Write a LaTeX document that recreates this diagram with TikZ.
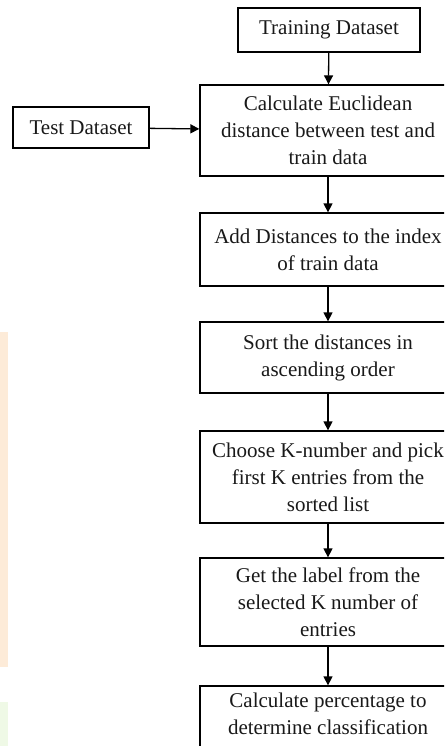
\documentclass[tikz,border=0pt]{standalone}
\usepackage{fontspec}
\setmainfont{Liberation Serif}
\usetikzlibrary{arrows.meta}
\definecolor{stripOrange}{RGB}{253,235,216}
\definecolor{stripGreen}{RGB}{239,249,230}
\tikzset{
  box/.style={draw, line width=1.3pt, align=center, inner sep=0pt,
    font=\fontsize{21}{27}\selectfont, text=black!90},
  flow/.style={line width=1.3pt, -{Triangle[width=9pt,length=9pt]}},
}
\begin{document}
\begin{tikzpicture}[x=1pt,y=-1pt]
\useasboundingbox (0,0) rectangle (444,746);
\clip (0,0) rectangle (444,746);
\fill[white] (0,0) rectangle (444,746);
% faint page strips at the left edge
\fill[stripOrange] (0,332) rectangle (8,667);
\fill[stripGreen] (0,702) rectangle (8,746);
% nodes
\node[box, minimum width=182, minimum height=44] (train) at (329,30) {Training Dataset};
\node[box, minimum width=136, minimum height=41] (test) at (81,127.5) {Test Dataset};
\node[box, minimum width=256, minimum height=91] (calc) at (328,130.5)
  {Calculate Euclidean\\distance between test and\\train data};
\node[box, minimum width=256, minimum height=73] (add) at (328,249.5)
  {Add Distances to the index\\of train data};
\node[box, minimum width=256, minimum height=71] (sort) at (328,357.5)
  {Sort the distances in\\ascending order};
\node[box, minimum width=256, minimum height=92] (choose) at (328,477)
  {Choose K-number and pick\\first K entries from the\\sorted list};
\node[box, minimum width=256, minimum height=88] (get) at (328,602)
  {Get the label from the\\selected K number of\\entries};
\node[box, minimum width=256, minimum height=91] (pct) at (328,731.5)
  {Calculate percentage to\\determine classification\\\strut};
% connectors
\draw[flow] (train) -- (calc);
\draw[flow] (test) -- (calc);
\draw[flow] (calc) -- (add);
\draw[flow] (add) -- (sort);
\draw[flow] (sort) -- (choose);
\draw[flow] (choose) -- (get);
\draw[flow] (get) -- (pct);
\end{tikzpicture}
\end{document}
